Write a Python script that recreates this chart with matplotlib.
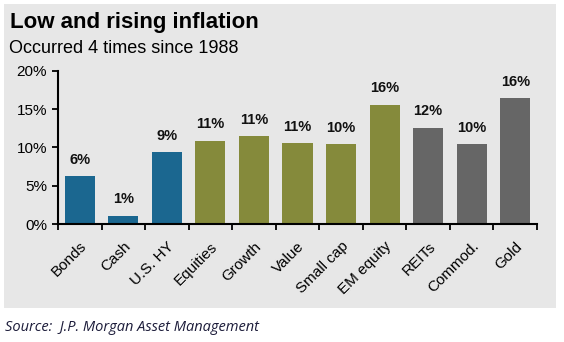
import numpy as np
import matplotlib.pyplot as plt
from matplotlib.patches import Rectangle

plt.rcParams['font.family'] = ['Liberation Sans', 'DejaVu Sans']

categories = ['Bonds', 'Cash', 'U.S. HY', 'Equities', 'Growth', 'Value',
              'Small cap', 'EM equity', 'REITs', 'Commod.', 'Gold']
returns = [6.3, 1.1, 9.4, 10.9, 11.5, 10.6, 10.4, 15.6, 12.6, 10.4, 16.5]
bar_labels = ['6%', '1%', '9%', '11%', '11%', '11%', '10%', '16%', '12%', '10%', '16%']
groups = ['fi', 'fi', 'fi', 'eq', 'eq', 'eq', 'eq', 'eq', 'alt', 'alt', 'alt']
yticks = [0, 5, 10, 15, 20]

group_colors = {'fi': '#1b6790', 'eq': '#858a3b', 'alt': '#666666'}
bg = '#e7e7e7'

fig = plt.figure(figsize=(5.64, 3.42), dpi=100)
fig.patch.set_facecolor('white')
fig.patches.append(Rectangle((4 / 564, 1 - 308 / 342), 552 / 564, 304 / 342,
                             transform=fig.transFigure, facecolor=bg,
                             edgecolor='none', zorder=-10))

ax = fig.add_axes([58 / 564, 1 - 224 / 342, 479 / 564, 153 / 342])
ax.set_facecolor(bg)

x = np.arange(len(categories))
colors = [group_colors[g] for g in groups]
ax.bar(x, returns, width=0.69, color=colors, zorder=2)
for xi, v, lab in zip(x, returns, bar_labels):
    ax.text(xi, v + 1.2, lab, ha='center', va='bottom', fontsize=10.5,
            fontweight='bold', color='#111111')

ax.set_xlim(-0.5, len(categories) - 0.5)
ax.set_ylim(0, 20)
ax.set_yticks(yticks)
ax.set_yticklabels([f'{t}%' for t in yticks], fontsize=11)
ax.set_xticks(x)
ax.set_xticklabels(categories, rotation=45, ha='right', rotation_mode='anchor',
                   fontsize=11)
ax.tick_params(axis='x', length=0, pad=11)
ax.set_xticks(np.arange(-0.5, len(categories)), minor=True)
ax.tick_params(axis='x', which='minor', length=4, width=1.3, direction='out')
ax.tick_params(axis='y', length=4, width=1.3, direction='out', pad=4)

for side in ['top', 'right']:
    ax.spines[side].set_visible(False)
for side in ['left', 'bottom']:
    ax.spines[side].set_linewidth(1.5)

fig.text(10 / 564, 1 - 28 / 342, 'Low and rising inflation', fontsize=16,
         fontweight='bold', ha='left', va='baseline')
fig.text(9 / 564, 1 - 53 / 342, 'Occurred 4 times since 1988', fontsize=13,
         ha='left', va='baseline')
fig.text(5 / 564, 1 - 331 / 342, 'Source:  J.P. Morgan Asset Management',
         fontsize=10.5, style='italic', family=['Open Sans', 'DejaVu Sans'],
         color='#1c1c3a', ha='left', va='baseline')

fig.savefig('out.png', dpi=100, facecolor='white')
